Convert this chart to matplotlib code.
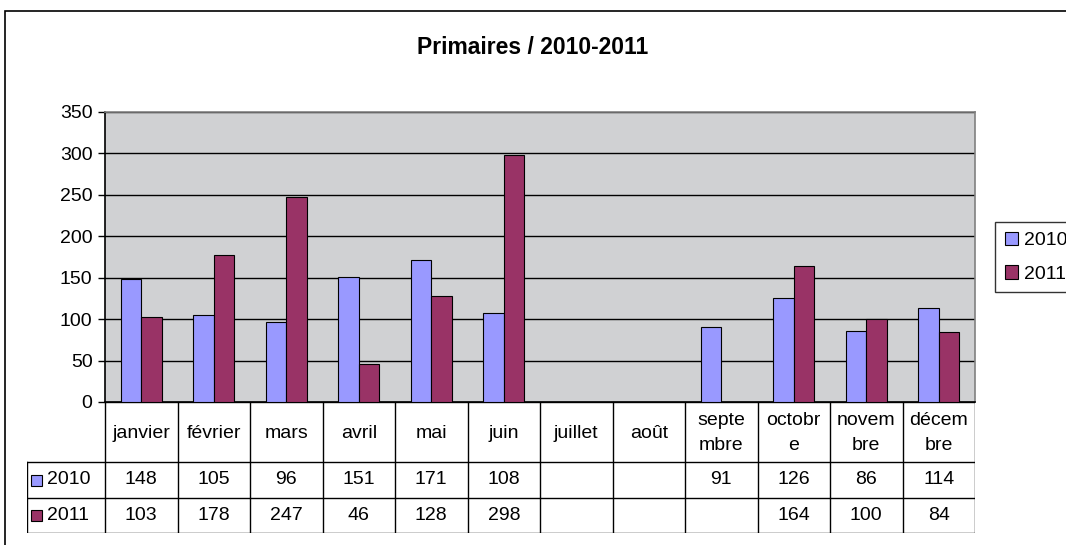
import numpy as np
import matplotlib
matplotlib.use("Agg")
import matplotlib.pyplot as plt
from matplotlib.patches import Rectangle

plt.rcParams['font.family'] = ['Liberation Sans', 'DejaVu Sans']

# donnees
mois = ["janvier", "février", "mars", "avril", "mai", "juin", "juillet",
        "août", "septe\nmbre", "octobr\ne", "novem\nbre", "décem\nbre"]
v2010 = [148, 105, 96, 151, 171, 108, np.nan, np.nan, 91, 126, 86, 114]
v2011 = [103, 178, 247, 46, 128, 298, np.nan, np.nan, np.nan, 164, 100, 84]
series = ["2010", "2011"]
couleurs = ["#9999FF", "#993366"]

W, H = 1066, 545
fs = 14
fig = plt.figure(figsize=(W / 100, H / 100), dpi=100)

# cadre exterieur
fig.patches.append(Rectangle((5 / W, -0.05), 1.1, 1 - 11 / H + 0.05, transform=fig.transFigure,
                             fill=False, ec="black", lw=1.2, clip_on=False))

# zone de trace (pixels)
L, R, T, B = 105, 975, 112, 402
ax = fig.add_axes([L / W, 1 - B / H, (R - L) / W, (B - T) / H])
ax.set_facecolor("#D0D1D3")
x = np.arange(len(mois))
w = 1 / 3.5
b1 = ax.bar(x - w / 2, v2010, w, color=couleurs[0], edgecolor="black", lw=0.8, zorder=3)
b2 = ax.bar(x + w / 2, v2011, w, color=couleurs[1], edgecolor="black", lw=0.8, zorder=3)
ax.set_xlim(-0.5, 11.5)
ax.set_ylim(0, 350)
ax.set_yticks(range(0, 351, 50))
ax.yaxis.grid(True, color="black", lw=1, zorder=1)
ax.set_xticks([])
ax.tick_params(axis="y", direction="out", length=5, width=1, labelsize=fs, pad=4)
ax.spines["left"].set_color("black")
ax.spines["bottom"].set_color("black")
ax.spines["top"].set_color("#808080")
ax.spines["right"].set_color("#808080")
for s in ax.spines.values():
    s.set_linewidth(1.2)

fig.text(0.5, 1 - 48 / H, "Primaires / 2010-2011", ha="center", va="center",
         fontsize=16.5, fontweight="bold")

# tableau de donnees
TL = 27
lignes = [0, 60, 96, 131]
tab = fig.add_axes([TL / W, 1 - (B + lignes[-1]) / H, (R - TL) / W, lignes[-1] / H])
px = (R - L) / 12.0
x0 = -0.5 - (L - TL) / px
tab.set_xlim(x0, 11.5)
tab.set_ylim(lignes[-1], 0)
tab.axis("off")
lc = dict(color="black", lw=1)
for k in range(13):
    tab.plot([k - 0.5, k - 0.5], [0, lignes[-1]], **lc)
tab.plot([-0.5, 11.5], [0, 0], **lc)
for yy in lignes[1:]:
    tab.plot([x0, 11.5], [yy, yy], **lc)
tab.plot([x0, x0], [lignes[1], lignes[-1]], **lc)
for i, m in enumerate(mois):
    tab.text(i, lignes[1] / 2 + 1, m, ha="center", va="center", fontsize=fs, linespacing=1.6)
for r, (nom, vals, c) in enumerate(zip(series, [v2010, v2011], couleurs)):
    yc = (lignes[r + 1] + lignes[r + 2]) / 2
    tab.add_patch(Rectangle((x0 + 0.06, yc - 5.5), 0.15, 11, fc=c, ec="black", lw=0.8))
    tab.text(x0 + 0.27, yc, nom, ha="left", va="center", fontsize=fs)
    for i, v in enumerate(vals):
        if not np.isnan(v):
            tab.text(i, yc, "%d" % v, ha="center", va="center", fontsize=fs)

# legende
leg = fig.legend([b1, b2], series, loc="upper left", bbox_to_anchor=(995 / W, 1 - 222 / H),
                 fontsize=fs, frameon=True, fancybox=False, edgecolor="black",
                 handlelength=0.7, handleheight=0.7, handletextpad=0.3,
                 borderpad=0.5, labelspacing=0.8, borderaxespad=0)
leg.get_frame().set_linewidth(1)

fig.savefig("out.png", dpi=100)
